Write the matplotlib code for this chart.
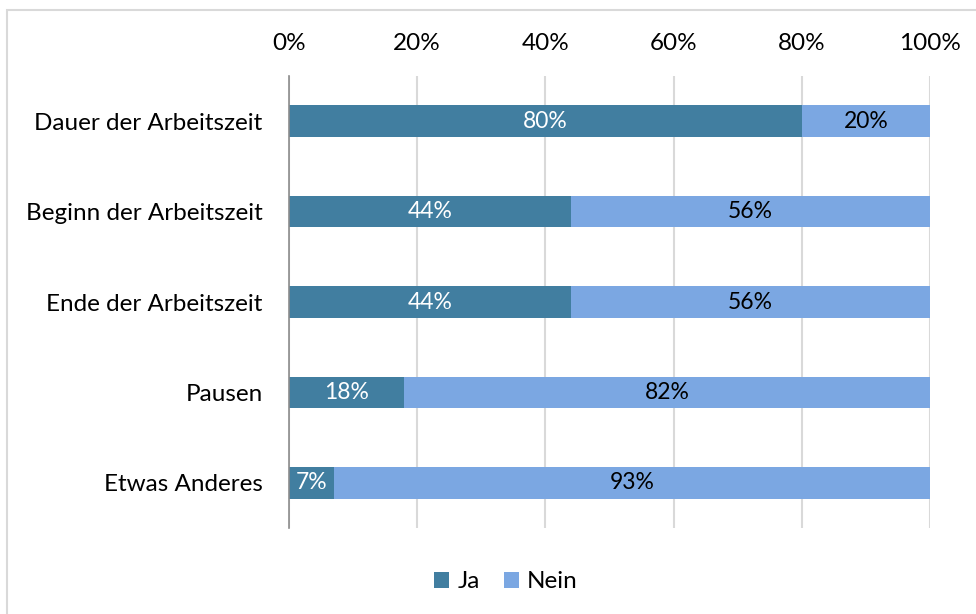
import matplotlib
matplotlib.use("Agg")
import matplotlib.pyplot as plt
from matplotlib.patches import Rectangle

categories = ["Dauer der Arbeitszeit", "Beginn der Arbeitszeit", "Ende der Arbeitszeit", "Pausen", "Etwas Anderes"]
ja = [80, 44, 44, 18, 7]
nein = [20, 56, 56, 82, 93]
xticks = [0, 20, 40, 60, 80, 100]
xticklabels = ["0%", "20%", "40%", "60%", "80%", "100%"]

c_ja = "#417EA0"
c_nein = "#7BA7E2"

plt.rcParams['font.family'] = ['Lato', 'DejaVu Sans']

W, H = 976, 614
fig = plt.figure(figsize=(W/100, H/100), dpi=100)
# outer frame
fig.patches.append(Rectangle((7/W, -0.1), 1.2, 1 - 10/H + 0.1, transform=fig.transFigure,
                             fill=False, edgecolor="#D9D9D9", linewidth=1.5))

ax = fig.add_axes([289/W, 1 - 528/H, (930-289)/W, (528-76)/H])
y = list(range(len(categories)))
bh = 0.35
ax.barh(y, ja, height=bh, color=c_ja, label="Ja")
ax.barh(y, nein, left=ja, height=bh, color=c_nein, label="Nein")

for i in y:
    ax.text(ja[i]/2, i, f"{ja[i]}%", ha="center", va="center", color="white", fontsize=16.5)
    ax.text(ja[i] + nein[i]/2, i, f"{nein[i]}%", ha="center", va="center", color="black", fontsize=16.5)

ax.set_xlim(0, 100)
ax.set_ylim(len(categories) - 0.5, -0.5)
ax.set_yticks(y)
ax.set_yticklabels(categories, fontsize=17.5)
ax.set_xticks(xticks)
ax.set_xticklabels(xticklabels, fontsize=17.5)
ax.xaxis.tick_top()
ax.tick_params(axis="both", length=0)
ax.tick_params(axis="x", pad=16)
ax.tick_params(axis="y", pad=19)
ax.grid(axis="x", color="#D9D9D9", linewidth=1.5)
ax.set_axisbelow(True)
for s in ["top", "right", "bottom"]:
    ax.spines[s].set_visible(False)
ax.spines["left"].set_color("#8C8C8C")
ax.spines["left"].set_linewidth(1.2)
ax.spines["left"].set_zorder(3)

fig.legend(loc="center", bbox_to_anchor=(506/W, 1 - 582/H), ncol=2, frameon=False,
           fontsize=17.5, handlelength=0.6, handleheight=0.6, handletextpad=0.35, columnspacing=1.0)

fig.savefig("out.png", dpi=100)
